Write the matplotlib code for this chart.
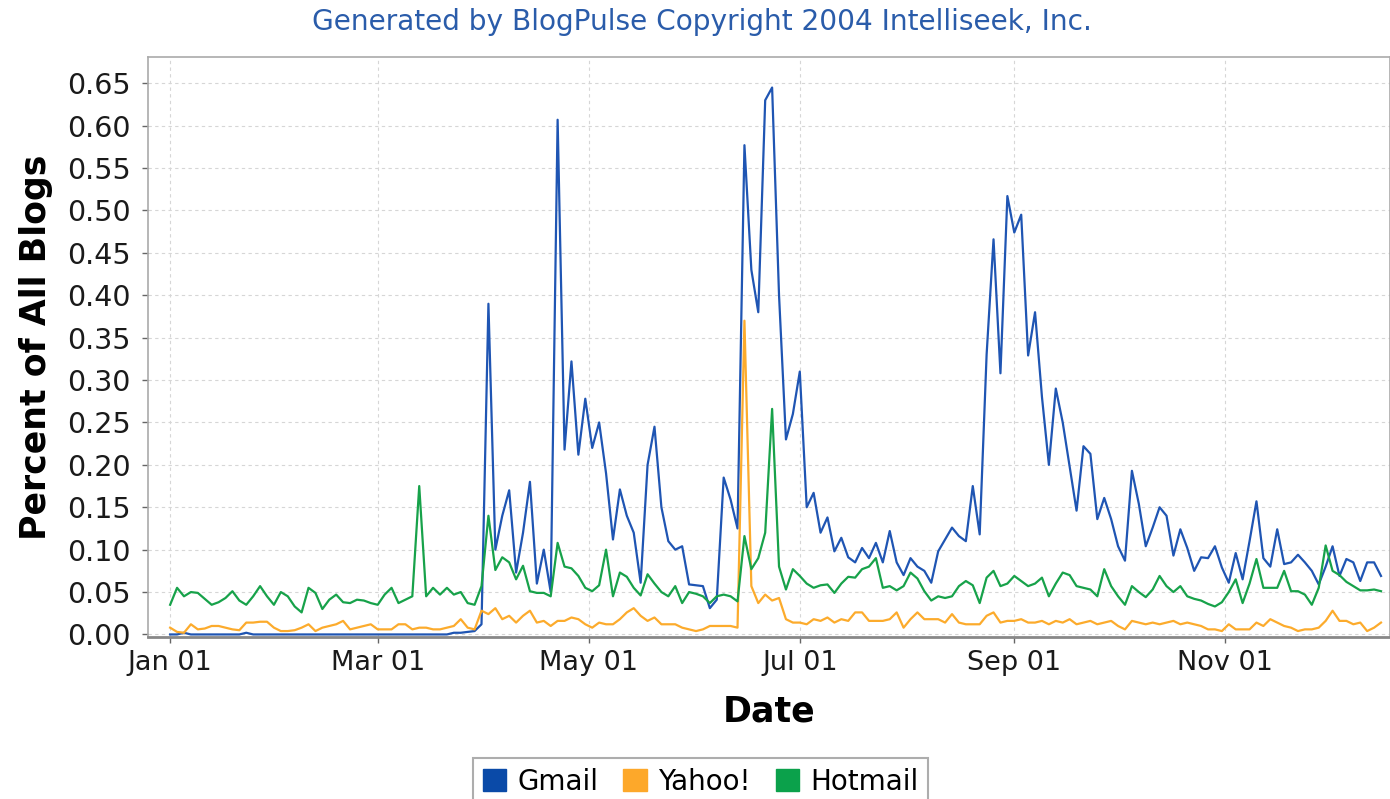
import matplotlib
matplotlib.use("Agg")
import matplotlib.pyplot as plt
from matplotlib.patches import Patch
import pandas as pd

dates = pd.date_range("2004-01-01", periods=176, freq="2D")

gmail = [
    0, 0, 0.002, 0, 0, 0, 0, 0, 0, 0,
    0, 0.002, 0, 0, 0, 0, 0, 0, 0, 0,
    0, 0, 0, 0, 0, 0, 0, 0, 0, 0,
    0, 0, 0, 0, 0, 0, 0, 0, 0, 0,
    0, 0.002, 0.002, 0.003, 0.004, 0.012, 0.39, 0.10, 0.14, 0.17,
    0.073, 0.12, 0.18, 0.06, 0.10, 0.05, 0.607, 0.218, 0.322, 0.212,
    0.278, 0.22, 0.25, 0.19, 0.112, 0.171, 0.14, 0.12, 0.061, 0.20,
    0.245, 0.15, 0.11, 0.10, 0.104, 0.059, 0.058, 0.057, 0.031, 0.041,
    0.185, 0.159, 0.125, 0.577, 0.43, 0.38, 0.63, 0.645, 0.40, 0.23,
    0.26, 0.31, 0.15, 0.167, 0.12, 0.138, 0.098, 0.114, 0.091, 0.085,
    0.102, 0.09, 0.108, 0.085, 0.122, 0.085, 0.07, 0.09, 0.08, 0.075,
    0.061, 0.098, 0.112, 0.126, 0.116, 0.11, 0.175, 0.118, 0.33, 0.466,
    0.308, 0.517, 0.474, 0.495, 0.329, 0.38, 0.28, 0.20, 0.29, 0.25,
    0.198, 0.146, 0.222, 0.213, 0.136, 0.161, 0.136, 0.104, 0.087, 0.193,
    0.154, 0.104, 0.126, 0.15, 0.14, 0.093, 0.124, 0.102, 0.075, 0.091,
    0.09, 0.104, 0.079, 0.061, 0.096, 0.065, 0.11, 0.157, 0.09, 0.08,
    0.124, 0.083, 0.085, 0.094, 0.085, 0.075, 0.059, 0.08, 0.104, 0.069,
    0.089, 0.085, 0.063, 0.085, 0.085, 0.069,
]

yahoo = [
    0.008, 0.003, 0.002, 0.012, 0.006, 0.007, 0.010, 0.010, 0.008, 0.006,
    0.005, 0.014, 0.014, 0.015, 0.015, 0.008, 0.004, 0.004, 0.005, 0.008,
    0.012, 0.004, 0.008, 0.010, 0.012, 0.016, 0.006, 0.008, 0.010, 0.012,
    0.006, 0.006, 0.006, 0.012, 0.012, 0.006, 0.008, 0.008, 0.006, 0.006,
    0.008, 0.010, 0.018, 0.008, 0.006, 0.028, 0.024, 0.031, 0.018, 0.022,
    0.014, 0.022, 0.028, 0.014, 0.016, 0.010, 0.016, 0.016, 0.020, 0.018,
    0.012, 0.008, 0.014, 0.012, 0.012, 0.018, 0.026, 0.031, 0.022, 0.016,
    0.020, 0.012, 0.012, 0.012, 0.008, 0.006, 0.004, 0.006, 0.010, 0.010,
    0.010, 0.010, 0.008, 0.37, 0.057, 0.037, 0.047, 0.040, 0.043, 0.018,
    0.014, 0.014, 0.012, 0.018, 0.016, 0.020, 0.014, 0.018, 0.016, 0.026,
    0.026, 0.016, 0.016, 0.016, 0.018, 0.026, 0.008, 0.018, 0.026, 0.018,
    0.018, 0.018, 0.014, 0.024, 0.014, 0.012, 0.012, 0.012, 0.022, 0.026,
    0.014, 0.016, 0.016, 0.018, 0.014, 0.014, 0.016, 0.012, 0.016, 0.014,
    0.018, 0.012, 0.014, 0.016, 0.012, 0.014, 0.016, 0.010, 0.006, 0.016,
    0.014, 0.012, 0.014, 0.012, 0.014, 0.016, 0.012, 0.014, 0.012, 0.010,
    0.006, 0.006, 0.004, 0.012, 0.006, 0.006, 0.006, 0.014, 0.010, 0.018,
    0.014, 0.010, 0.008, 0.004, 0.006, 0.006, 0.008, 0.016, 0.028, 0.016,
    0.016, 0.012, 0.014, 0.004, 0.008, 0.014,
]

hotmail = [
    0.035, 0.055, 0.045, 0.05, 0.049, 0.042, 0.035, 0.038, 0.043, 0.051,
    0.04, 0.035, 0.045, 0.057, 0.045, 0.035, 0.05, 0.045, 0.033, 0.026,
    0.055, 0.049, 0.030, 0.041, 0.047, 0.038, 0.037, 0.041, 0.040, 0.037,
    0.035, 0.047, 0.055, 0.037, 0.041, 0.045, 0.175, 0.045, 0.055, 0.047,
    0.055, 0.047, 0.05, 0.037, 0.035, 0.057, 0.14, 0.076, 0.091, 0.085,
    0.065, 0.081, 0.051, 0.049, 0.049, 0.045, 0.108, 0.08, 0.078, 0.069,
    0.055, 0.051, 0.058, 0.10, 0.045, 0.073, 0.068, 0.055, 0.046, 0.071,
    0.06, 0.05, 0.045, 0.057, 0.037, 0.05, 0.048, 0.045, 0.037, 0.045,
    0.047, 0.045, 0.039, 0.116, 0.077, 0.09, 0.12, 0.266, 0.08, 0.053,
    0.077, 0.069, 0.06, 0.055, 0.058, 0.059, 0.049, 0.06, 0.068, 0.067,
    0.077, 0.08, 0.09, 0.055, 0.057, 0.052, 0.057, 0.073, 0.066, 0.051,
    0.04, 0.045, 0.043, 0.045, 0.057, 0.063, 0.058, 0.037, 0.067, 0.075,
    0.057, 0.06, 0.069, 0.063, 0.057, 0.06, 0.067, 0.045, 0.06, 0.073,
    0.07, 0.057, 0.055, 0.053, 0.045, 0.077, 0.057, 0.045, 0.035, 0.057,
    0.05, 0.044, 0.053, 0.069, 0.057, 0.05, 0.057, 0.045, 0.042, 0.04,
    0.036, 0.033, 0.038, 0.05, 0.065, 0.037, 0.06, 0.089, 0.055, 0.055,
    0.055, 0.075, 0.051, 0.051, 0.047, 0.035, 0.055, 0.105, 0.075, 0.07,
    0.062, 0.057, 0.052, 0.052, 0.053, 0.051,
]

series_names = ["Gmail", "Yahoo!", "Hotmail"]
colors = ["#1f55b3", "#fcab2c", "#17a24a"]
legend_colors = ["#0a4aa8", "#fda82a", "#0ba14b"]
tick_dates = ["2004-01-01", "2004-03-01", "2004-05-01", "2004-07-01", "2004-09-01", "2004-11-01"]
tick_labels = ["Jan 01", "Mar 01", "May 01", "Jul 01", "Sep 01", "Nov 01"]
y_ticks = [i * 0.05 for i in range(14)]

fig = plt.figure(figsize=(13.9, 7.99), dpi=100)
ax = fig.add_axes([148 / 1390, 1 - 637 / 799, 1 - 148 / 1390, (637 - 57) / 799])

for vals, c in zip([gmail, yahoo, hotmail], colors):
    ax.plot(dates, vals, color=c, lw=1.6, solid_joinstyle="round")

start = pd.Timestamp("2004-01-01")
ax.set_xlim(start - pd.Timedelta(days=6.4), start + pd.Timedelta(days=352.6))
ax.set_ylim(-0.003, 0.681)

ax.set_xticks(pd.to_datetime(tick_dates))
ax.set_xticklabels(tick_labels)
ax.set_yticks(y_ticks)
ax.set_yticklabels([f"{v:.2f}" for v in y_ticks])
ax.tick_params(axis="x", labelsize=19.5, pad=5)
ax.tick_params(axis="y", labelsize=20.5, pad=8.5)
ax.tick_params(axis="both", colors="#666666", labelcolor="#1a1a1a",
               length=4, width=1, direction="out")
ax.grid(True, color="#d6d6d6", linestyle=(0, (3, 3)), linewidth=0.8)
ax.set_axisbelow(True)
for side in ["left", "top", "right"]:
    ax.spines[side].set_color("#aaaaaa")
    ax.spines[side].set_linewidth(1.2)
ax.spines["bottom"].set_color("#888888")
ax.spines["bottom"].set_linewidth(2)

ax.set_ylabel("Percent of All Blogs", fontsize=25, fontweight="bold", labelpad=10)
ax.set_xlabel("Date", fontsize=25, fontweight="bold", labelpad=14)

fig.text(0.505, 1 - 22 / 799, "Generated by BlogPulse Copyright 2004 Intelliseek, Inc.",
         ha="center", va="center", fontsize=20.2, color="#2a5caa")

handles = [Patch(facecolor=c, edgecolor=c) for c in legend_colors]
leg = fig.legend(handles, series_names, loc="upper center", bbox_to_anchor=(0.504, 1 - 758 / 799),
                 ncol=3, fontsize=20, frameon=True, fancybox=False, edgecolor="#999999",
                 handlelength=0.85, handleheight=0.85, handletextpad=0.4, columnspacing=0.9,
                 borderpad=0.35, borderaxespad=0)
leg.get_frame().set_linewidth(1.5)

fig.savefig("out.png", dpi=100)
